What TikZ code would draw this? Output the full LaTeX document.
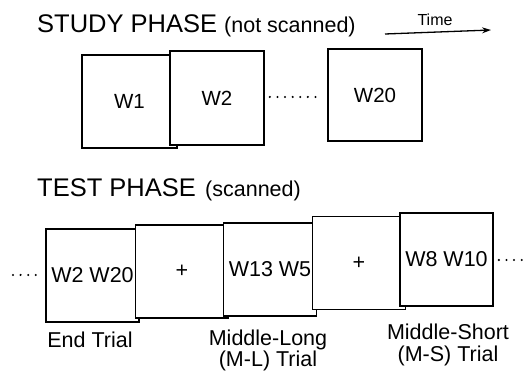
\documentclass[tikz,border=0pt]{standalone}
\usepackage{fontspec}
\setmainfont{Liberation Sans}
\usetikzlibrary{arrows.meta}
\begin{document}
\begin{tikzpicture}[x=1pt,y=-1pt,
  frame/.style={draw=black, line width=1.7pt, fill=white, inner sep=0pt,
    minimum width=93pt, minimum height=93pt, font=\fontsize{20.5}{24}\selectfont},
  tframe/.style={frame, font=\fontsize{21.5}{25}\selectfont},
  dotline/.style={line width=2.3pt, line cap=round, dash pattern=on 0pt off 7.6pt},
  title/.style={anchor=base west, inner sep=0pt, font=\fontsize{25.5}{30}\selectfont},
  subtitle/.style={anchor=base west, inner sep=0pt, font=\fontsize{21.5}{25}\selectfont},
  lbl/.style={anchor=base, inner sep=0pt, font=\fontsize{21.5}{25}\selectfont}]
\useasboundingbox (0,0) rectangle (523,371);
% study phase
\node[title] (st) at (37,33) {STUDY PHASE};
\node[subtitle] (stn) at (224,33) {(not scanned)};
\node[anchor=base, inner sep=0pt, font=\fontsize{16}{19}\selectfont] (time) at (435,26) {Time};
\coordinate (ta) at (385,34);
\coordinate (tb) at (491,30);
\draw[line width=1.3pt, -{Stealth[length=9pt,width=6pt]}] (ta) -- (tb);
\node[frame, minimum width=95pt] (w1) at (129.5,101.5) {\raisebox{-1.5pt}{W1}};
\node[frame, minimum width=94pt, minimum height=94pt] (w2) at (217,98) {W2};
\node[frame, minimum width=94pt, minimum height=92pt] (w20) at (375,95) {W20};
\draw[dotline, shorten <=5pt, shorten >=6pt] (w2.east |- 0,97) -- (w20.west |- 0,97);
% test phase
\node[title] (tt) at (37,197) {TEST PHASE};
\node[subtitle] (ttn) at (205,197) {(scanned)};
\node[tframe] (b1) at (92.5,275.5) {\raisebox{-1.5pt}{W2 W20}};
\node[tframe] (b2) at (182,271.5) {+};
\node[tframe] (b3) at (270,269.5) {W13 W5};
\node[tframe] (b4) at (359,263) {+};
\node[tframe] (b5) at (446.5,259.5) {W8 W10};
\coordinate (ls) at (13,275);
\coordinate (re) at (523,260);
\draw[dotline, shorten >=8pt] (ls) -- (b1.west |- ls);
\draw[dotline, shorten <=5pt] (b5.east |- re) -- (re);
% labels
\node[lbl] (l1) at (90,348) {End Trial};
\node[lbl] (l2a) at (268,346) {Middle-Long};
\node[lbl] (l2b) at (268,366.5) {(M-L) Trial};
\node[lbl] (l3a) at (448,340) {Middle-Short};
\node[lbl] (l3b) at (448,362) {(M-S) Trial};
\end{tikzpicture}
\end{document}
